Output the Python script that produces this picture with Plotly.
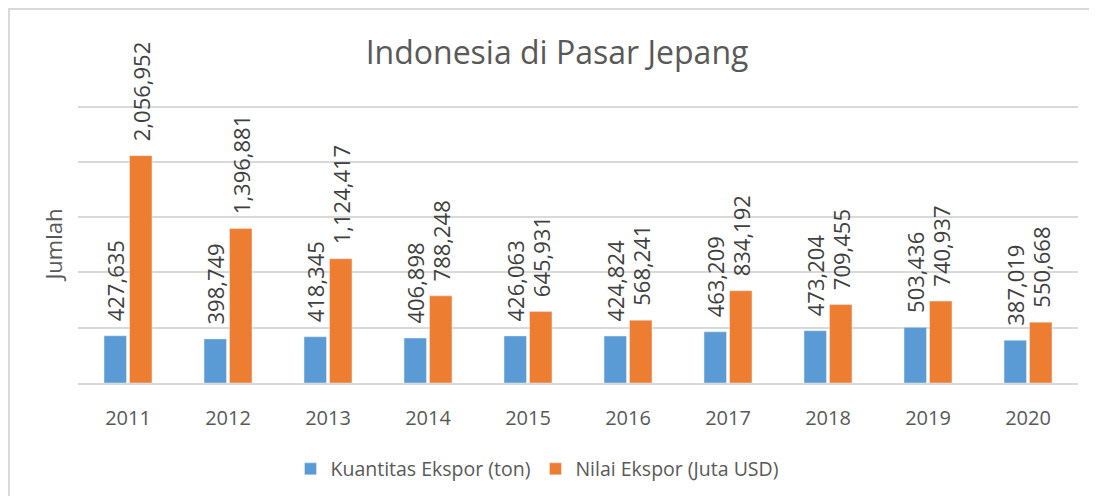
import plotly.graph_objects as go

years = ["2011", "2012", "2013", "2014", "2015", "2016", "2017", "2018", "2019", "2020"]
kuantitas = [427635, 398749, 418345, 406898, 426063, 424824, 463209, 473204, 503436, 387019]
nilai = [2056952, 1396881, 1124417, 788248, 645931, 568241, 834192, 709455, 740937, 550668]

pad = "\u00a0\u00a0"
font_name = "Open Sans"
grey = "#595959"
label_grey = "#404040"

fig = go.Figure()
fig.add_trace(go.Bar(x=years, y=kuantitas, name="Kuantitas Ekspor (ton)",
                     marker=dict(color="#5B9BD5"),
                     text=[pad + f"{v:,}" for v in kuantitas],
                     textposition="outside", textangle=-90, constraintext="none",
                     cliponaxis=False, textfont=dict(size=22, color=label_grey)))
fig.add_trace(go.Bar(x=years, y=nilai, name="Nilai Ekspor (Juta USD)",
                     marker=dict(color="#ED7D31"),
                     text=[pad + f"{v:,}" for v in nilai],
                     textposition="outside", textangle=-90, constraintext="none",
                     cliponaxis=False, textfont=dict(size=22, color=label_grey)))

# outer frame of the chart, only left and top edges are in view
fig.add_shape(type="path", xref="paper", yref="paper",
              path="M -0.069,-0.41 L -0.069,1.345 L 1.02,1.345",
              line=dict(color="#D9D9D9", width=2))

fig.update_layout(
    width=1085, height=488,
    margin=dict(l=70, r=15, t=97, b=113),
    paper_bgcolor="white", plot_bgcolor="white",
    font=dict(family=font_name, color=grey),
    title=dict(text="Indonesia di Pasar Jepang", x=0.506, xanchor="center",
               y=0.908, yanchor="middle", font=dict(size=32, color=grey)),
    barmode="group", bargap=0.49, bargroupgap=0.12,
    legend=dict(orientation="h", x=0.459, xanchor="center",
                yref="container", y=0.055, yanchor="middle",
                font=dict(size=19.5, color=grey)),
    showlegend=True,
)
fig.update_xaxes(showline=True, linecolor="#D9D9D9", linewidth=2,
                 tickfont=dict(size=20, color=grey), ticks="", ticklabelstandoff=16)
fig.update_yaxes(range=[0, 2515000], dtick=500000, showticklabels=False,
                 gridcolor="#D9D9D9", gridwidth=2, zeroline=False,
                 title=dict(text="Jumlah", font=dict(size=22, color=grey), standoff=8))

fig.write_html("out.html")
